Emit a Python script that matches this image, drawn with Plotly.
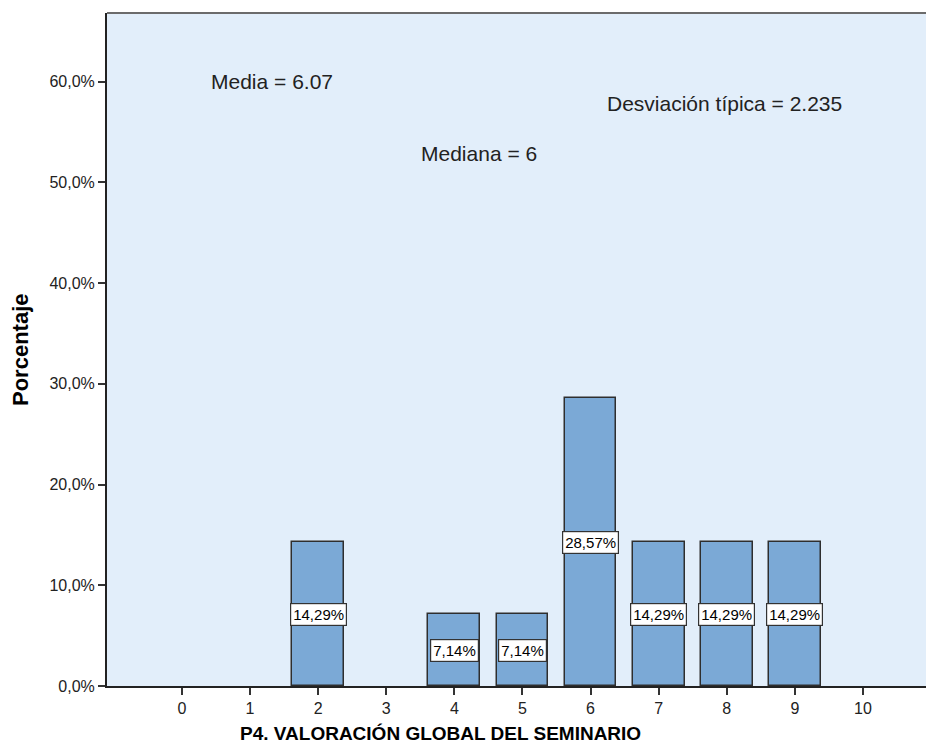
import plotly.graph_objects as go

categories = [0, 1, 2, 3, 4, 5, 6, 7, 8, 9, 10]
percentages = [0, 0, 14.29, 0, 7.14, 7.14, 28.57, 14.29, 14.29, 14.29, 0]
y_tick_vals = [0, 10, 20, 30, 40, 50, 60]
y_tick_text = ["0,0%", "10,0%", "20,0%", "30,0%", "40,0%", "50,0%", "60,0%"]
stats = [("Media = 6.07", 209, 82), ("Mediana = 6", 419, 153), ("Desviación típica = 2.235", 605, 104)]

# page offset from default body margin
OFF = 8
W, H = 918, 737
L, R, T, B = 99, 0, 5, 59
FONT = "Liberation Sans, Arial, sans-serif"

# plot area in page pixels
PX0, PX1 = OFF + L, OFF + W - R
PY0, PY1 = OFF + T, OFF + H - B


def px(x):
    return (x - PX0) / (PX1 - PX0)


def py(y):
    return 1 - (y - PY0) / (PY1 - PY0)


xs = [c for c, p in zip(categories, percentages) if p > 0]
ys = [p for p in percentages if p > 0]

fig = go.Figure()
fig.add_trace(go.Bar(
    x=xs, y=ys, width=0.76,
    marker=dict(color="#7BA9D6", line=dict(color="#2e2e2e", width=1.5)),
    hoverinfo="x+y",
))

for c, p in zip(xs, ys):
    fig.add_annotation(
        x=c, y=p / 2, text=f"{p:.2f}".replace(".", ",") + "%",
        showarrow=False, bgcolor="white", bordercolor="#333333", borderwidth=1.2,
        borderpad=2, font=dict(family=FONT, size=15, color="black"),
    )

for txt, x0, y0 in stats:
    fig.add_annotation(
        xref="paper", yref="paper", x=px(x0), y=py(y0),
        text=txt, showarrow=False, xanchor="left", yanchor="middle",
        font=dict(family=FONT, size=21, color="#222222"),
    )

fig.add_annotation(
    xref="paper", yref="paper", x=px(440), y=py(733),
    text="<b>P4. VALORACIÓN GLOBAL DEL SEMINARIO</b>", showarrow=False,
    xanchor="center", yanchor="middle", font=dict(family=FONT, size=19, color="black"),
)
fig.add_annotation(
    xref="paper", yref="paper", x=px(20), y=py(350), textangle=-90,
    text="<b>Porcentaje</b>", showarrow=False,
    xanchor="center", yanchor="middle", font=dict(family=FONT, size=22, color="black"),
)

fig.add_shape(type="line", xref="paper", yref="paper", x0=0, x1=1, y0=1, y1=1,
              line=dict(color="#6b6b6b", width=2))

fig.update_layout(
    width=W, height=H,
    margin=dict(l=L, r=R, t=T, b=B),
    paper_bgcolor="white", plot_bgcolor="#E2EEFA",
    showlegend=False, bargap=0,
    font=dict(family=FONT, size=15, color="black"),
    xaxis=dict(
        range=[-1.1, 10.925], tickvals=categories, ticktext=[str(c) for c in categories],
        ticks="outside", ticklen=7, tickcolor="#333333", tickwidth=1.5,
        showline=True, linecolor="#222222", linewidth=2, showgrid=False, zeroline=False,
        tickfont=dict(family=FONT, size=16, color="#222222"),
    ),
    yaxis=dict(
        range=[0, 66.8], tickvals=y_tick_vals, ticktext=y_tick_text,
        ticks="outside", ticklen=7, tickcolor="#333333", tickwidth=1.5,
        showline=True, linecolor="#222222", linewidth=2, showgrid=False, zeroline=False,
        tickfont=dict(family=FONT, size=16, color="#222222"),
    ),
)

fig.write_html("out.html")
